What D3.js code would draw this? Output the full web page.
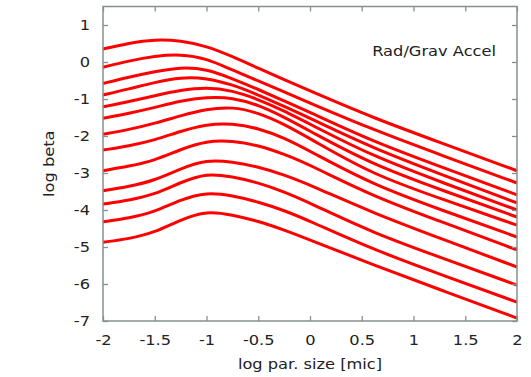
<!DOCTYPE html>
<html>
<head>
<meta charset="utf-8">
<script src="https://cdn.jsdelivr.net/npm/d3@7"></script>
<style>
  html, body { margin: 0; padding: 0; background: #fff; }
  svg { display: block; }
  text { font-family: "DejaVu Sans", sans-serif; fill: #222; }
</style>
</head>
<body>
<svg id="chart" width="531" height="377"></svg>
<script>
// log particle size [micron] sample points shared by every curve
const logSize = [-2, -1.75, -1.5, -1.25, -1, -0.75, -0.5, -0.25, 0, 0.6, 1.3, 2];

// log beta (radiation / gravity acceleration) for each curve, top to bottom
const beta01 = [0.35, 0.51, 0.61, 0.58, 0.43, 0.15, -0.17, -0.48, -0.78, -1.50, -2.22, -2.94];
const beta02 = [-0.14, 0.03, 0.16, 0.21, 0.10, -0.22, -0.51, -0.81, -1.11, -1.82, -2.55, -3.27];
const beta03 = [-0.58, -0.41, -0.26, -0.14, -0.19, -0.45, -0.74, -1.05, -1.36, -2.14, -2.87, -3.59];
const beta04 = [-0.89, -0.73, -0.55, -0.41, -0.43, -0.61, -0.89, -1.20, -1.52, -2.32, -3.07, -3.81];
const beta05 = [-1.21, -1.07, -0.91, -0.76, -0.68, -0.77, -1.01, -1.32, -1.68, -2.54, -3.28, -4.00];
const beta06 = [-1.52, -1.39, -1.23, -1.05, -0.95, -0.96, -1.16, -1.49, -1.87, -2.77, -3.49, -4.19];
const beta07 = [-1.95, -1.83, -1.66, -1.45, -1.27, -1.21, -1.37, -1.68, -2.07, -3.04, -3.73, -4.41];
const beta08 = [-2.38, -2.27, -2.11, -1.87, -1.68, -1.66, -1.79, -2.05, -2.41, -3.31, -4.03, -4.73];
const beta09 = [-2.94, -2.82, -2.66, -2.36, -2.13, -2.13, -2.25, -2.49, -2.78, -3.62, -4.35, -5.08];
const beta10 = [-3.48, -3.37, -3.20, -2.88, -2.64, -2.70, -2.83, -3.05, -3.32, -4.07, -4.81, -5.54];
const beta11 = [-3.84, -3.74, -3.58, -3.25, -3.00, -3.10, -3.26, -3.51, -3.81, -4.61, -5.32, -6.03];
const beta12 = [-4.32, -4.22, -4.05, -3.72, -3.52, -3.61, -3.78, -4.01, -4.30, -5.06, -5.78, -6.49];
const beta13 = [-4.87, -4.78, -4.61, -4.26, -4.02, -4.13, -4.30, -4.54, -4.81, -5.47, -6.20, -6.92];

const curves = [beta01, beta02, beta03, beta04, beta05, beta06, beta07,
                beta08, beta09, beta10, beta11, beta12, beta13];

const xTicks = [-2, -1.5, -1, -0.5, 0, 0.5, 1, 1.5, 2];
const yTicks = [1, 0, -1, -2, -3, -4, -5, -6, -7];

const xTitle = "log par. size [mic]";
const yTitle = "log beta";
const panelTitle = "Rad/Grav Accel";

const margin = { left: 103, right: 14, top: 6.5, bottom: 56 };
const W = 531, H = 377;
const svg = d3.select("#chart");

const x = d3.scaleLinear().domain([-2, 2]).range([margin.left, W - margin.right]);
const y = d3.scaleLinear().domain([-7, 1.5]).range([H - margin.bottom, margin.top]);

const frameColor = "#86918f";
const fontSize = 14;
const stretch = 1.16;   // the lettering is set slightly wide

// curves, smoothed through the sample points
const line = d3.line()
  .x((d, i) => x(logSize[i]))
  .y(d => y(d))
  .curve(d3.curveBasis);

svg.append("g")
  .selectAll("path")
  .data(curves)
  .join("path")
  .attr("d", d => line(d))
  .attr("fill", "none")
  .attr("stroke", "#ff0000")
  .attr("stroke-width", 3)
  .attr("stroke-linejoin", "round");

// axes with inward ticks on all four sides
const fmt = d => String(d);
const axisB = svg.append("g")
  .attr("transform", `translate(0,${y(-7)})`)
  .call(d3.axisBottom(x).tickValues(xTicks).tickFormat(fmt)
    .tickSizeInner(-5).tickSizeOuter(0).tickPadding(14));
const axisL = svg.append("g")
  .attr("transform", `translate(${x(-2)},0)`)
  .call(d3.axisLeft(y).tickValues(yTicks).tickFormat(fmt)
    .tickSizeInner(-5).tickSizeOuter(0).tickPadding(13 / stretch));
const axisT = svg.append("g")
  .attr("transform", `translate(0,${y(1.5)})`)
  .call(d3.axisTop(x).tickValues(xTicks).tickFormat("")
    .tickSizeInner(-5).tickSizeOuter(0));
const axisR = svg.append("g")
  .attr("transform", `translate(${x(2)},0)`)
  .call(d3.axisRight(y).tickValues(yTicks).tickFormat("")
    .tickSizeInner(-5).tickSizeOuter(0));

[axisB, axisL, axisT, axisR].forEach(g => {
  g.select(".domain").remove();
  g.selectAll(".tick line").attr("stroke", frameColor).attr("stroke-width", 1.3);
  g.selectAll(".tick text")
    .attr("fill", "#222")
    .attr("transform", `scale(${stretch},1)`)
    .style("font-family", "DejaVu Sans, sans-serif")
    .style("font-size", fontSize + "px");
});

// plot frame
svg.append("rect")
  .attr("x", x(-2)).attr("y", y(1.5))
  .attr("width", x(2) - x(-2)).attr("height", y(-7) - y(1.5))
  .attr("fill", "none")
  .attr("stroke", frameColor)
  .attr("stroke-width", 1.5);

// titles
svg.append("text")
  .attr("transform", `translate(${(x(-2) + x(2)) / 2},369) scale(${stretch},1)`)
  .attr("text-anchor", "middle")
  .style("font-size", fontSize + "px")
  .text(xTitle);

svg.append("text")
  .attr("transform", `translate(54,${(y(-7) + y(1.5)) / 2}) rotate(-90) scale(${stretch},1)`)
  .attr("text-anchor", "middle")
  .style("font-size", fontSize + "px")
  .text(yTitle);

svg.append("text")
  .attr("transform", `translate(496,56) scale(${stretch},1)`)
  .attr("text-anchor", "end")
  .style("font-size", fontSize + "px")
  .text(panelTitle);
</script>
</body>
</html>
